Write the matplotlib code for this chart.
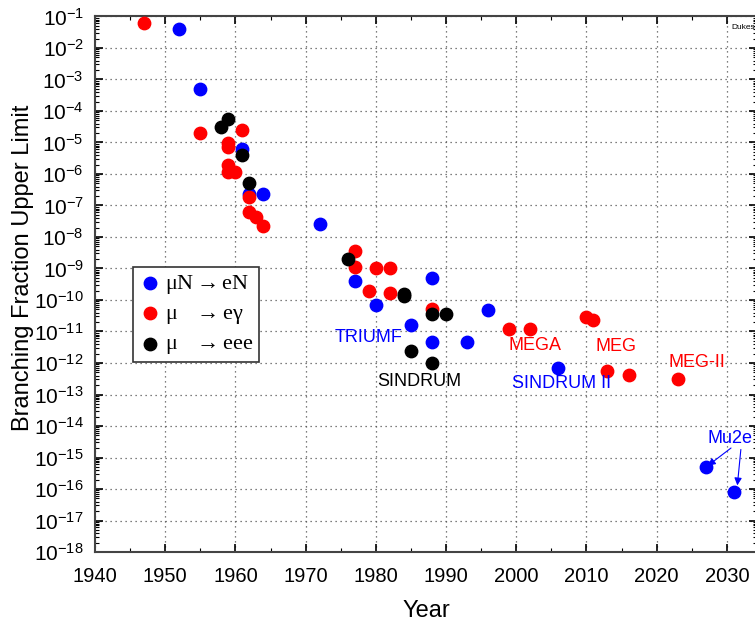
import numpy as np
import matplotlib.pyplot as plt
from matplotlib.ticker import LogLocator, MultipleLocator, NullFormatter

plt.rcParams['font.family'] = ['Liberation Sans', 'DejaVu Sans']
plt.rcParams['mathtext.fontset'] = 'custom'
plt.rcParams['mathtext.rm'] = 'Liberation Sans'
plt.rcParams['mathtext.default'] = 'regular'

# mu N -> e N (conversion)
conv_year = [1952, 1955, 1961, 1962, 1964, 1972, 1977, 1980, 1988, 1996,
             1985, 1988, 1993, 2006, 2027, 2031]
conv_lim = [4e-2, 5e-4, 6e-6, 2.3e-7, 2.3e-7, 2.6e-8, 4e-10, 7e-11, 5e-10, 4.8e-11,
            1.6e-11, 4.7e-12, 4.5e-12, 7e-13, 5e-16, 8e-17]

# mu -> e gamma
meg_year = [1947, 1955, 1961, 1959, 1959, 1959, 1959, 1960, 1962, 1962, 1963, 1964,
            1977, 1977, 1980, 1982, 1979, 1982, 1988, 1999, 2002, 2010, 2011,
            2013, 2016, 2023]
meg_lim = [6e-2, 2e-5, 2.5e-5, 9.5e-6, 7e-6, 2e-6, 1.2e-6, 1.2e-6, 1.9e-7, 6e-8, 4.3e-8, 2.2e-8,
           3.6e-9, 1.1e-9, 1e-9, 1e-9, 1.9e-10, 1.7e-10, 5e-11, 1.2e-11, 1.2e-11, 2.8e-11, 2.4e-11,
           5.7e-13, 4.2e-13, 3.1e-13]

# mu -> eee
eee_year = [1959, 1958, 1961, 1962, 1976, 1984, 1984, 1988, 1990, 1985, 1988]
eee_lim = [5.5e-5, 3e-5, 4e-6, 5.2e-7, 2e-9, 1.5e-10, 1.3e-10, 3.6e-11, 3.6e-11, 2.4e-12, 1.0e-12]

# experiment labels: (text, year, limit, colour)
exp_labels = [('TRIUMF', 1978.9, 6.5e-12, 'blue'),
              ('SINDRUM', 1986.2, 2.6e-13, 'black'),
              ('SINDRUM II', 2006.4, 2.3e-13, 'blue'),
              ('MEGA', 2002.7, 3.5e-12, 'red'),
              ('MEG', 2014.2, 3.3e-12, 'red'),
              ('MEG-II', 2025.8, 1.05e-12, 'red'),
              ('Mu2e', 2030.5, 3.9e-15, 'blue')]

fig = plt.figure(figsize=(7.55, 6.21), dpi=100)
ax = fig.add_axes([95/755, 69/621, 662/755, 535.5/621])

ms = 80
ax.scatter(conv_year, conv_lim, s=ms, color='blue', zorder=3,
           label=r'$\mu$N$\rightarrow$eN')
ax.scatter(meg_year, meg_lim, s=ms, color='red', zorder=3,
           label=r'$\mu$   $\rightarrow$e$\gamma$')
ax.scatter(eee_year, eee_lim, s=ms, color='black', zorder=3,
           label=r'$\mu$   $\rightarrow$eee')

ax.set_yscale('log')
ax.set_xlim(1940, 2034.3)
ax.set_ylim(1e-18, 1e-1)

ax.xaxis.set_major_locator(MultipleLocator(10))
ax.xaxis.set_minor_locator(MultipleLocator(5))
ax.yaxis.set_major_locator(LogLocator(base=10, numticks=30))
ax.yaxis.set_minor_locator(LogLocator(base=10, subs=np.arange(2, 10), numticks=30))
ax.yaxis.set_minor_formatter(NullFormatter())

ax.tick_params(which='both', direction='in', top=True, right=True, colors='black')
ax.tick_params(which='major', length=6, width=1.2)
ax.tick_params(which='minor', length=3, width=0.8)
ax.tick_params(axis='x', labelsize=14.5, pad=11)
ax.tick_params(axis='y', labelsize=15, pad=8)
for sp in ax.spines.values():
    sp.set_linewidth(1.5)
    sp.set_color('#444444')

ax.grid(True, which='major', linestyle=(0, (1, 3)), color='#555555', linewidth=0.9)

ax.set_xlabel('Year', fontsize=17, labelpad=10)
ax.set_ylabel('Branching Fraction Upper Limit', fontsize=17)
ax.yaxis.set_label_coords(-0.092, 0.530)

for txt, yr, lim, col in exp_labels:
    ax.text(yr, lim, txt, color=col, fontsize=13, ha='center', va='center')

ax.annotate('', xy=(2027.3, 5.5e-16), xytext=(2030.6, 2e-15),
            arrowprops=dict(arrowstyle='-|>', color='blue', lw=0.8, mutation_scale=11,
                            shrinkA=0, shrinkB=0))
ax.annotate('', xy=(2031.5, 1.3e-16), xytext=(2032.0, 1.8e-15),
            arrowprops=dict(arrowstyle='-|>', color='blue', lw=0.8, mutation_scale=11,
                            shrinkA=0, shrinkB=0))
ax.text(2030.6, 4.5e-2, 'Dukes', fontsize=6, ha='left', va='center')

leg = ax.legend(loc='upper left', bbox_to_anchor=(0.0574, 0.532), borderaxespad=0,
                frameon=True, fancybox=False, edgecolor='#333333', framealpha=1,
                handletextpad=0.2, borderpad=0.25, labelspacing=0.35, handlelength=1.0,
                prop={'family': ['Liberation Serif', 'DejaVu Serif'], 'size': 16,
                      'math_fontfamily': 'stix'})
leg.get_frame().set_linewidth(1.2)

fig.savefig('out.png', dpi=100)
